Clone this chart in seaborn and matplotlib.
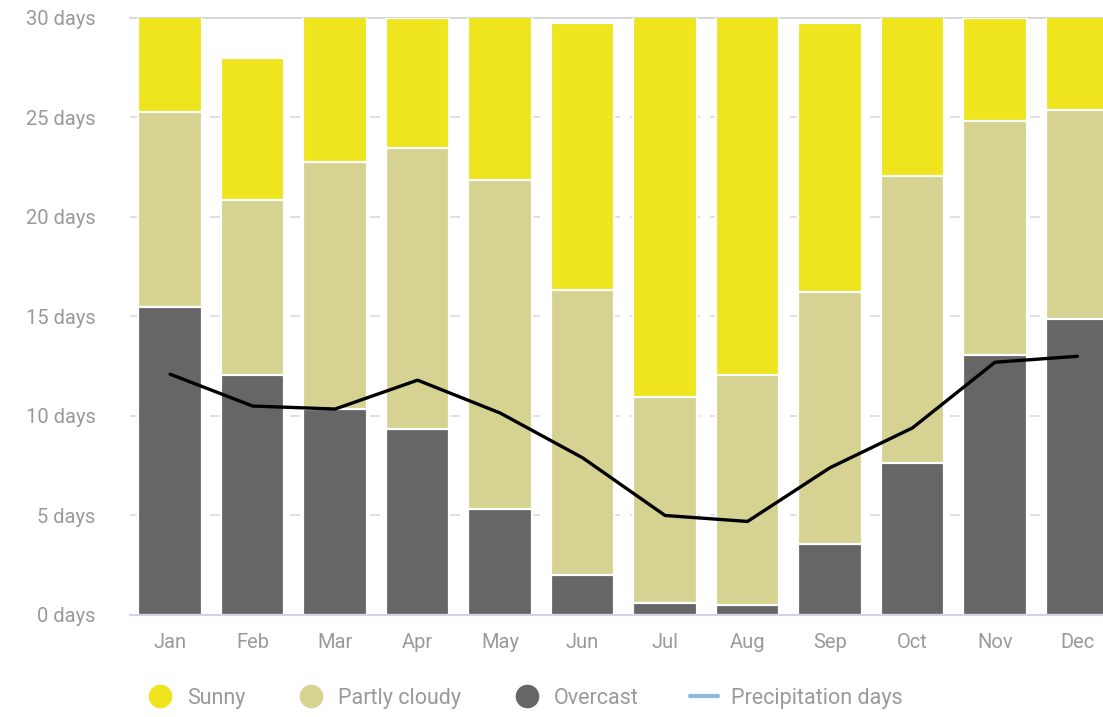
import matplotlib.pyplot as plt
import matplotlib.lines as mlines
import pandas as pd
import numpy as np
import seaborn as sbn

months = ["Jan", "Feb", "Mar", "Apr", "May", "Jun", "Jul", "Aug", "Sep", "Oct", "Nov", "Dec"]
overcast = [15.5, 12.06, 10.35, 9.35, 5.33, 2.0, 0.6, 0.5, 3.57, 7.64, 13.07, 14.87]
partly_cloudy = [9.8, 8.79, 12.41, 14.12, 16.53, 14.33, 10.35, 11.56, 12.66, 14.42, 11.75, 10.51]
sunny = [5.7, 7.15, 8.24, 6.53, 9.14, 13.42, 20.05, 18.94, 13.52, 8.94, 5.18, 5.62]
precipitation = [12.1, 10.5, 10.35, 11.8, 10.15, 7.9, 5.0, 4.7, 7.4, 9.4, 12.7, 13.0]
y_ticks = [0, 5, 10, 15, 20, 25, 30]

col_sunny = "#eee51e"
col_pc = "#d6d392"
col_over = "#666666"
txt = "#9a9a9a"

dtf = pd.DataFrame({"month": months, "overcast": overcast,
                    "partly": partly_cloudy, "sunny": sunny, "precip": precipitation})
dtf["pc_top"] = dtf["overcast"] + dtf["partly"]
dtf["total"] = dtf["pc_top"] + dtf["sunny"]

sbn.set_style("white")
plt.rcParams["font.family"] = ["Roboto", "DejaVu Sans"]

fig = plt.figure(figsize=(11.03, 7.17), dpi=100)
ax = fig.add_axes([0.118, 0.1423, 0.882, 0.8326])

# stacked bars drawn as layered cumulative heights
for col, c in [("total", col_sunny), ("pc_top", col_pc), ("overcast", col_over)]:
    sbn.barplot(data=dtf, x="month", y=col, color=c, width=0.77, ax=ax,
                edgecolor="white", linewidth=1.6, saturation=1, zorder=2)

sbn.lineplot(x=np.arange(len(months)), y=dtf["precip"], color="black", lw=2.4, ax=ax, zorder=3)

ax.set_xlim(-0.485, 11.31)
ax.set_ylim(0, 30)
ax.set_yticks(y_ticks)
ax.set_yticklabels([f"{v} days" for v in y_ticks])
ax.set_xlabel("")
ax.set_ylabel("")
for v in y_ticks[1:-1]:
    ax.axhline(v, color="#dcdcdc", lw=1.2, ls=(0, (6, 6)), zorder=1)
ax.axhline(30, color="#d8d8d8", lw=1.5, zorder=1, clip_on=False)
for s in ["top", "right", "left"]:
    ax.spines[s].set_visible(False)
ax.spines["bottom"].set_color("#ccd6eb")
ax.spines["bottom"].set_linewidth(1.5)
ax.tick_params(axis="x", length=0, pad=13, labelsize=14.5, labelcolor=txt)
ax.tick_params(axis="y", length=0, pad=25, labelsize=14.5, labelcolor=txt)

handles = [
    mlines.Line2D([], [], marker="o", ls="", ms=16, color=col_sunny, label="Sunny"),
    mlines.Line2D([], [], marker="o", ls="", ms=16, color=col_pc, label="Partly cloudy"),
    mlines.Line2D([], [], marker="o", ls="", ms=16, color=col_over, label="Overcast"),
    mlines.Line2D([], [], color="#8db7e0", lw=3, label="Precipitation days"),
]
leg = fig.legend(handles=handles, loc="center left", bbox_to_anchor=(0.115, 0.026), ncol=4,
                 frameon=False, fontsize=15.5, handlelength=1.3, handletextpad=0.6,
                 columnspacing=2.4, labelcolor=txt)

plt.savefig("out.png", dpi=100)
